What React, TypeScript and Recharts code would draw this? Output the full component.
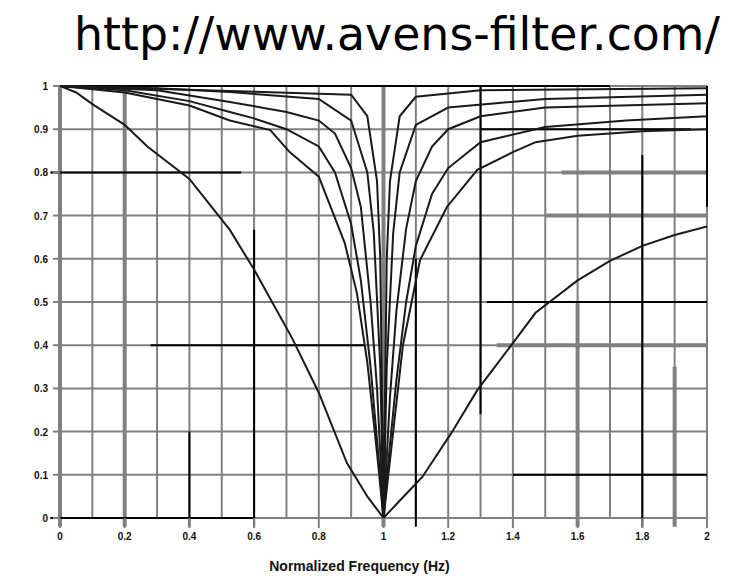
import React from 'react';
import { LineChart, Line, XAxis, YAxis, CartesianGrid, ReferenceLine, Label } from 'recharts';

// ---------- axis ticks ----------
const xTicks = [0, 0.2, 0.4, 0.6, 0.8, 1, 1.2, 1.4, 1.6, 1.8, 2];
const xTickLabels = ['0', '0.2', '0.4', '0.6', '0.8', '1', '1.2', '1.4', '1.6', '1.8', '2'];
const yTicks = [0, 0.1, 0.2, 0.3, 0.4, 0.5, 0.6, 0.7, 0.8, 0.9, 1];
const yTickLabels = ['0', '0.1', '0.2', '0.3', '0.4', '0.5', '0.6', '0.7', '0.8', '0.9', '1'];
const gridX = [0, 0.1, 0.2, 0.3, 0.4, 0.5, 0.6, 0.7, 0.8, 0.9, 1, 1.1, 1.2, 1.3, 1.4, 1.5, 1.6, 1.7, 1.8, 1.9, 2];
const gridY = yTicks;

// ---------- curves (normalized frequency -> amplitude) ----------
const freqA = [0, 0.05, 0.1, 0.2, 0.27, 0.4, 0.525, 0.6, 0.717, 0.8, 0.887, 0.95, 1.0, 1.05, 1.12, 1.21, 1.29, 1.4, 1.47, 1.6, 1.7, 1.8, 1.9, 2.0];
const gainA = [1.0, 0.985, 0.958, 0.91, 0.86, 0.785, 0.667, 0.575, 0.417, 0.29, 0.127, 0.05, 0, 0.04, 0.095, 0.197, 0.296, 0.405, 0.475, 0.55, 0.595, 0.63, 0.655, 0.675];

const freqB = [0, 0.2, 0.4, 0.525, 0.65, 0.71, 0.8, 0.88, 0.918, 0.95, 0.98, 1.0, 1.03, 1.06, 1.113, 1.14, 1.196, 1.29, 1.4, 1.47, 1.6, 1.8, 2.0];
const gainB = [1, 0.985, 0.955, 0.92, 0.898, 0.847, 0.79, 0.637, 0.52, 0.36, 0.15, 0, 0.2, 0.4, 0.597, 0.637, 0.72, 0.806, 0.847, 0.87, 0.885, 0.895, 0.9];

const freqC = [0, 0.2, 0.4, 0.525, 0.6, 0.7, 0.8, 0.85, 0.9, 0.93, 0.96, 0.98, 1.0, 1.02, 1.04, 1.07, 1.1, 1.15, 1.2, 1.3, 1.5, 1.75, 2.0];
const gainC = [1, 0.99, 0.965, 0.94, 0.925, 0.9, 0.86, 0.8, 0.68, 0.55, 0.35, 0.18, 0, 0.17, 0.32, 0.5, 0.63, 0.75, 0.81, 0.87, 0.905, 0.92, 0.93];

const freqD = [0, 0.3, 0.525, 0.7, 0.8, 0.85, 0.9, 0.93, 0.96, 0.98, 1.0, 1.02, 1.04, 1.07, 1.1, 1.15, 1.2, 1.3, 1.5, 2.0];
const gainD = [1, 0.99, 0.963, 0.94, 0.92, 0.89, 0.81, 0.72, 0.5, 0.3, 0, 0.28, 0.48, 0.67, 0.78, 0.86, 0.9, 0.93, 0.95, 0.96];

const freqE = [0, 0.3, 0.525, 0.8, 0.9, 0.95, 0.97, 0.99, 1.0, 1.01, 1.03, 1.05, 1.1, 1.2, 1.5, 2.0];
const gainE = [1, 0.995, 0.986, 0.97, 0.92, 0.8, 0.66, 0.35, 0, 0.35, 0.66, 0.8, 0.91, 0.95, 0.97, 0.98];

const freqF = [0, 0.9, 0.95, 0.98, 0.99, 1.0, 1.01, 1.02, 1.05, 1.1, 1.3, 2.0];
const gainF = [1, 0.98, 0.93, 0.78, 0.6, 0, 0.6, 0.78, 0.93, 0.975, 0.99, 0.995];

const zip = (xs: number[], ys: number[]) => xs.map((x, i) => ({ f: x, g: ys[i] }));
const curves = [
  zip(freqA, gainA),
  zip(freqB, gainB),
  zip(freqC, gainC),
  zip(freqD, gainD),
  zip(freqE, gainE),
  zip(freqF, gainF),
];

// dark (scanned black) grid segments: [x1, y1, x2, y2]
const darkSegments: [number, number, number, number][] = [
  [0, 1, 1.7, 1],
  [-0.03, 0.8, 0.56, 0.8],
  [0.28, 0.4, 0.94, 0.4],
  [-0.03, 0, 0.6, 0],
  [1.3, 0.9, 1.95, 0.9],
  [1.32, 0.5, 2, 0.5],
  [1.4, 0.1, 2, 0.1],
  [0.4, 0.2, 0.4, -0.02],
  [0.6, 0.667, 0.6, -0.02],
  [1.1, 0.6, 1.1, -0.02],
  [1.3, 1, 1.3, 0.24],
  [1.8, 0.84, 1.8, -0.02],
  [2, 1, 2, 0.72],
];

// thick gray grid segments
const thickSegments: [number, number, number, number][] = [
  [0, 1, 0, -0.02],
  [0.2, 1, 0.2, -0.02],
  [1, 1, 1, -0.02],
  [1.6, 0.5, 1.6, -0.02],
  [1.9, 0.35, 1.9, -0.02],
  [1.55, 0.8, 2, 0.8],
  [1.5, 0.7, 2, 0.7],
  [1.35, 0.4, 2, 0.4],
];

const GRID = '#808080';

const YTick = (props: any) => {
  const { x, y, payload } = props;
  const idx = yTicks.indexOf(payload.value);
  return (
    <text x={x} y={y} dy={4} textAnchor="end" fontSize={10} fontWeight="bold" fill="#111" fontFamily="Liberation Sans, Arial, sans-serif">
      {yTickLabels[idx]}
    </text>
  );
};

const XTick = (props: any) => {
  const { x, y, payload } = props;
  const idx = xTicks.indexOf(payload.value);
  return (
    <text x={x} y={y} dy={10} textAnchor="middle" fontSize={10} fontWeight="bold" fill="#111" fontFamily="Liberation Sans, Arial, sans-serif">
      {xTickLabels[idx]}
    </text>
  );
};

export default function App() {
  return (
    <div style={{ position: 'absolute', left: 0, top: 0, width: 733, height: 577, background: '#fff' }}>
      <svg width={733} height={70} style={{ position: 'absolute', left: 0, top: 0 }}>
        <text x={74} y={50} fontSize={45.8} fontFamily="DejaVu Sans, sans-serif" fill="#000">
          http://www.avens-filter.com/
        </text>
      </svg>
      <div style={{ position: 'absolute', left: 0, top: 0 }}>
        <LineChart width={733} height={577} margin={{ top: 86, right: 26, bottom: 4, left: 30 }}>
          <CartesianGrid
            stroke={GRID}
            strokeWidth={2}
            verticalValues={gridX}
            horizontalValues={gridY}
          />
          <XAxis
            dataKey="f"
            type="number"
            domain={[0, 2]}
            ticks={xTicks}
            allowDataOverflow
            height={55}
            tick={<XTick />}
            tickSize={10}
            tickLine={{ stroke: GRID, strokeWidth: 2 }}
            axisLine={false}
          >
            <Label value="Normalized Frequency (Hz)" position="insideBottom" offset={2} dx={-24} fontSize={14} fontWeight="bold" fill="#111" fontFamily="Liberation Sans, Arial, sans-serif" />
          </XAxis>
          <YAxis
            dataKey="g"
            type="number"
            domain={[0, 1]}
            ticks={yTicks}
            width={30}
            tick={<YTick />}
            tickSize={7}
            tickMargin={5}
            tickLine={{ stroke: GRID, strokeWidth: 2 }}
            axisLine={false}
          />
          {thickSegments.map((s, i) => (
            <ReferenceLine key={'t' + i} segment={[{ x: s[0], y: s[1] }, { x: s[2], y: s[3] }]} stroke={GRID} strokeWidth={4} ifOverflow="visible" />
          ))}
          {darkSegments.map((s, i) => (
            <ReferenceLine key={'d' + i} segment={[{ x: s[0], y: s[1] }, { x: s[2], y: s[3] }]} stroke="#000" strokeWidth={2} ifOverflow="visible" />
          ))}
          {curves.map((c, i) => (
            <Line key={'c' + i} data={c} dataKey="g" type="linear" stroke="#1a1a1a" strokeWidth={2} dot={false} isAnimationActive={false} />
          ))}
        </LineChart>
      </div>
    </div>
  );
}
